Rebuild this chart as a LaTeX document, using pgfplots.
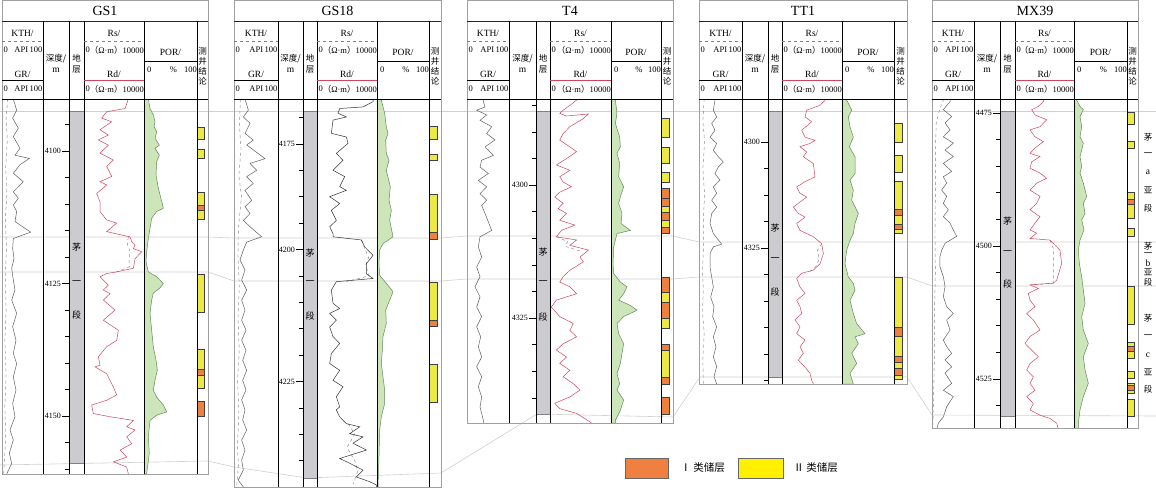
\documentclass[border=0pt]{standalone}
\usepackage{fontspec}
\setmainfont{Liberation Serif}
\newfontfamily\cjk{Noto Sans CJK SC}
\usepackage{pgfplots}
\pgfplotsset{compat=1.18}
\definecolor{grc}{RGB}{95,95,95}
\definecolor{kthc}{RGB}{135,135,135}
\definecolor{rdc}{RGB}{205,70,95}
\definecolor{rsc}{RGB}{130,130,130}
\definecolor{porf}{RGB}{204,230,186}
\definecolor{porl}{RGB}{100,135,95}
\definecolor{stg}{RGB}{204,204,208}
\definecolor{yel}{RGB}{236,232,70}
\definecolor{org}{RGB}{236,128,62}
\definecolor{lyel}{RGB}{255,240,0}
\definecolor{lorg}{RGB}{240,128,64}
\definecolor{frm}{RGB}{160,160,160}
\definecolor{cor}{RGB}{208,208,208}
\newcommand{\hA}{\fontsize{9.5}{9.5}\selectfont}
\newcommand{\hB}{\fontsize{8.5}{8.5}\selectfont}
\newcommand{\hC}{\cjk\fontsize{8.5}{8.5}\selectfont}
\newcommand{\hD}{\cjk\fontsize{9}{9}\selectfont}
\newcommand{\ttl}{\fontsize{14}{14}\selectfont}
\newcommand{\panel}[9]{%
  \draw[frm, line width=0.6pt] (#1,0) rectangle (#7,#8);
  \draw[black!85, line width=0.6pt] (#1,21) -- (#7,21);
  \draw[black, line width=0.7pt] (#1,99) -- (#7,99);
  \foreach \c in {#2,#3,#4,#5,#6} {\draw[black, line width=0.7pt] (\c,21) -- (\c,#8);}
  \draw[gray, dashed, line width=0.5pt] (#1,41) -- (#2,41);
  \draw[black, line width=0.6pt] (#1,80) -- (#2,80);
  \draw[gray, dashed, line width=0.5pt] (#4,41) -- (#5,41);
  \draw[rdc, line width=0.7pt] (#4,80) -- (#5,80);
  \draw[black, line width=0.6pt] (#5,61) -- (#6,61);
  \node[font=\ttl] at ({(#1+#7)/2},11) {#9};
  \node[font=\hA] at ({(#1+#2)/2},33) {KTH/};
  \node[font=\hB, anchor=west, inner sep=0] at (#1+1.5,50) {0};
  \node[font=\hB, anchor=east, inner sep=0] at (#2-0.5,50) {API\,100};
  \node[font=\hA] at ({(#1+#2)/2},74) {GR/};
  \node[font=\hB, anchor=west, inner sep=0] at (#1+1.5,89) {0};
  \node[font=\hB, anchor=east, inner sep=0] at (#2-0.5,89) {API\,100};
  \node[font=\hC] at ({(#2+#3)/2},59) {深度/};
  \node[font=\hA] at ({(#2+#3)/2},70) {m};
  \node[font=\hC] at ({(#3+#4)/2},58) {地};
  \node[font=\hC] at ({(#3+#4)/2},70) {层};
  \node[font=\hA] at ({(#4+#5)/2},33) {Rs/};
  \node[font=\hB, anchor=west, inner sep=0] at (#4+1.5,50) {0};
  \node[font=\hB, anchor=east, inner sep=0] at (#5,50) {{\cjk（}Ω·m{\cjk）}10000};
  \node[font=\hA] at ({(#4+#5)/2},74) {Rd/};
  \node[font=\hB, anchor=west, inner sep=0] at (#4+1.5,89) {0};
  \node[font=\hB, anchor=east, inner sep=0] at (#5,89) {{\cjk（}Ω·m{\cjk）}10000};
  \node[font=\hA] at ({(#5+#6)/2},52) {POR/};
  \node[font=\hB, anchor=west, inner sep=0] at (#5+3,70) {0};
  \node[font=\hB] at ({(#5+#6)/2+3},70) {\%};
  \node[font=\hB, anchor=east, inner sep=0] at (#6,70) {100};
  \node[font=\hC] at ({(#6+#7)/2},51) {测};
  \node[font=\hC] at ({(#6+#7)/2},61) {井};
  \node[font=\hC] at ({(#6+#7)/2},71) {结};
  \node[font=\hC] at ({(#6+#7)/2},81) {论};
}
\newcommand{\rb}[3]{\addplot[fill=#3, draw=black!75, line width=0.4pt] coordinates {(0,#1)(65,#1)(65,#2)(0,#2)} -- cycle;}
\pgfplotsset{
  trk/.style={scale only axis, anchor=north west, axis lines=none, y dir=reverse, xmin=0, xmax=100, clip=true},
  dep/.style={scale only axis, anchor=north west, y dir=reverse, xmin=0, xmax=100,
    axis x line=none, axis y line*=left, tick align=outside, major tick length=7pt, minor tick length=4pt,
    tick style={black, line width=0.6pt}, yticklabel style={font=\fontsize{8}{8}\selectfont, inner sep=1pt},
    y axis line style={draw=none}},
}
\begin{document}
\begin{tikzpicture}
\useasboundingbox (0,0) rectangle (1156pt,-489pt);
\begin{scope}[x=1pt,y=-1pt]
\draw[cor, line width=0.6pt] (0,111) -- (1156,111);
\draw[cor, line width=0.6pt] (0,237) -- (208,237) -- (234,238) -- (441,238) -- (467,236) -- (673,236) -- (699,242) -- (907,242) -- (932,242) -- (1156,242);
\draw[cor, line width=0.6pt] (0,272) -- (208,272) -- (234,281) -- (441,281) -- (467,279) -- (673,279) -- (699,277) -- (907,277) -- (932,286) -- (1156,286);
\draw[cor, line width=0.6pt] (0,465) -- (208,461) -- (234,467) -- (307,478) -- (441,473) -- (537,414) -- (673,417) -- (700,377) -- (907,377) -- (932,415) -- (1156,416);
\end{scope}

% ================= GS1 =================
\begin{axis}[trk, at={(2pt,-99pt)}, width=41pt, height=375pt, ymin=4090.2, ymax=4160.9]
\addplot[kthc, dashed, line width=0.45pt] coordinates {(14,4090.2)(10,4094)(13,4098)(9,4103)(12,4108)(8,4113)(11,4118)(8,4124)(10,4130)(7,4136)(10,4142)(7,4148)(9,4154)(4,4160.9)};
\addplot[grc, line width=0.5pt] coordinates {(27.6,4090.2)(35.8,4092.3)(26,4093.8)(39.8,4095.7)(27.6,4097.3)(43.9,4099.5)(31.7,4100.8)(66.7,4101.4)(43.9,4102.6)(27.6,4104.2)(52,4105.8)(27.6,4107.7)(39.8,4108.9)(27.6,4110.2)(35.8,4111.4)(31.7,4113.3)(69.9,4115.3)(27.6,4116.5)(26,4118.4)(29.3,4120.3)(23.6,4122.1)(27.6,4124.3)(31.7,4126.2)(23.6,4128.1)(35.8,4130.6)(26,4133.1)(34.1,4135.7)(27.6,4138.2)(35.8,4140.1)(27.6,4142.6)(34.1,4145.1)(26,4147.6)(31.7,4150.1)(19.5,4152.6)(27.6,4154.5)(17.9,4157)(23.6,4158.9)(11.4,4160.9)};
\end{axis}
\begin{axis}[dep, at={(69pt,-99pt)}, width=15pt, height=375pt, ymin=4090.2, ymax=4160.9,
  ytick={4100,4125,4150}, yticklabels={4100,4125,4150}, minor ytick={4095,4105,4110,4115,4120,4130,4135,4140,4145,4155,4160}]
\addplot[fill=stg, draw=gray, line width=0.4pt] coordinates {(0,4092.5)(100,4092.5)(100,4158.9)(0,4158.9)} -- cycle;
\end{axis}
\begin{axis}[trk, at={(84pt,-99pt)}, width=60pt, height=375pt, ymin=4090.2, ymax=4160.9, xmax=10000]
\addplot[rsc, dashed, line width=0.45pt] coordinates {(7395,4116.2)(7200,4117.5)(7700,4119)(7500,4120.5)(7600,4121.8)(5449,4122.8)};
\addplot[rdc, line width=0.5pt] coordinates {(7395,4090.2)(6839,4092.0)(3781,4092.6)(2947,4093.8)(4615,4094.5)(2669,4096.0)(4059,4097.0)(2391,4097.9)(4059,4098.9)(2669,4100.4)(4893,4101.7)(3781,4102.9)(4615,4104.8)(2669,4105.8)(3781,4106.4)(2113,4108.0)(2669,4109.6)(2669,4111.4)(3781,4113.0)(5449,4113.6)(3781,4115.2)(7673,4116.2)(7951,4117.1)(8507,4117.7)(8229,4118.4)(9619,4119.0)(8507,4120.3)(8229,4122.1)(5449,4122.8)(3781,4123.1)(2669,4123.7)(4059,4125.3)(3225,4126.2)(4337,4126.9)(3225,4128.1)(5171,4130.0)(3225,4131.9)(5727,4133.8)(5449,4135.7)(3781,4136.9)(2391,4138.8)(2669,4140.4)(1835,4140.7)(3781,4142.0)(4893,4144.5)(5449,4146.0)(3781,4147.0)(1279,4147.9)(1557,4149.5)(4337,4150.1)(8229,4150.8)(7117,4152.0)(8507,4152.6)(7117,4153.9)(7951,4155.2)(6005,4156.4)(7117,4157.7)(4893,4158.6)(7117,4159.6)(7395,4160.9)};
\end{axis}
\begin{axis}[trk, at={(144pt,-99pt)}, width=53pt, height=375pt, ymin=4090.2, ymax=4160.9]
\addplot[fill=porf, draw=porl, line width=0.5pt] coordinates {(0,4090.2)(8.2,4090.2)(11.3,4092.0)(17.6,4093.2)(20.8,4094.5)(18.9,4095.4)(23.9,4096.4)(20.8,4097.6)(28.9,4098.9)(20.8,4099.5)(28.9,4100.8)(23.9,4102.0)(22.6,4104.5)(27,4107.0)(35.2,4110.2)(36.5,4110.8)(23.9,4111.4)(14.5,4112.7)(11.3,4114.6)(8.2,4116.5)(5,4119.0)(3.8,4120.9)(8.2,4122.8)(23.9,4123.7)(36.5,4125.0)(30.2,4125.8)(17.6,4126.8)(14.5,4128.1)(11.3,4130.6)(14.5,4133.8)(17.6,4136.9)(22.6,4139.4)(25.2,4141.3)(20.8,4143.2)(17.6,4145.1)(23.9,4146.4)(36.5,4147.9)(42.8,4149.2)(23.9,4149.8)(11.3,4150.8)(8.2,4153.9)(10,4157.0)(5,4160.9)(0,4160.9)} -- cycle;
\end{axis}
\begin{axis}[trk, at={(197pt,-99pt)}, width=11pt, height=375pt, ymin=4090.2, ymax=4160.9]
\rb{4095.5}{4097.7}{yel}
\rb{4099.6}{4101.3}{yel}
\rb{4107.7}{4110.2}{yel}
\rb{4110.2}{4111.1}{org}
\rb{4111.1}{4112.8}{yel}
\rb{4123.2}{4130.4}{yel}
\rb{4137.4}{4141.1}{yel}
\rb{4141.1}{4142.3}{org}
\rb{4142.3}{4144.7}{yel}
\rb{4147.2}{4150.0}{org}
\end{axis}

% ================= GS18 =================
\begin{axis}[trk, at={(234pt,-99pt)}, width=44pt, height=388pt, ymin=4171.5, ymax=4245.0]
\addplot[kthc, dashed, line width=0.45pt] coordinates {(15,4171.5)(12,4176)(16,4181)(11,4186)(17,4190)(10,4196)(9,4201)(12,4207)(9,4213)(12,4219)(8,4225)(11,4231)(8,4237)(10,4241)(6,4245)};
\addplot[grc, line width=0.5pt] coordinates {(25,4171.5)(32.6,4173.6)(21.2,4174.9)(36.4,4176.1)(25,4178.0)(43.9,4179.3)(28.8,4180.2)(70.5,4182.8)(36.4,4183.7)(51.5,4185.0)(28.8,4186.2)(43.9,4187.5)(25,4188.8)(40.2,4190.7)(25,4191.9)(36.4,4193.2)(21.2,4194.5)(36.4,4195.7)(62.9,4197.6)(28.8,4198.6)(21.2,4200.1)(13.6,4202.0)(25,4203.9)(17.4,4205.8)(28.8,4207.7)(17.4,4209.6)(25,4211.5)(17.4,4213.4)(27.3,4215.3)(17.4,4217.2)(27.3,4219.1)(19.7,4221.0)(28.8,4222.9)(19.7,4224.8)(27.3,4226.6)(17.4,4228.5)(25,4230.4)(19.7,4232.3)(28.8,4234.2)(17.4,4236.1)(25,4238.0)(17.4,4239.9)(21.2,4241.8)(9.8,4243.7)(21.2,4245.0)};
\end{axis}
\begin{axis}[dep, at={(303pt,-99pt)}, width=14pt, height=388pt, ymin=4171.5, ymax=4245.0,
  ytick={4180,4200,4225}, yticklabels={4175,4200,4225}, minor ytick={4175,4185,4190,4195,4205,4210,4215,4220,4230,4235,4240}]
\addplot[fill=stg, draw=gray, line width=0.4pt] coordinates {(0,4173.8)(100,4173.8)(100,4243.3)(0,4243.3)} -- cycle;
\end{axis}
\begin{axis}[trk, at={(317pt,-99pt)}, width=60pt, height=388pt, ymin=4171.5, ymax=4245.0, xmax=10000]
\addplot[rsc, dashed, line width=0.45pt] coordinates {(7395,4198.2)(8000,4200)(8600,4201.5)(8100,4203)(8700,4205)(4893,4206.1)};
\addplot[rsc, dashed, line width=0.45pt] coordinates {(5200,4233)(6300,4235)(5000,4237.5)(6300,4240)(6800,4242)(6000,4244.5)};
\addplot[black!80, line width=0.5pt] coordinates {(9341,4171.5)(9341,4172.0)(7673,4173.0)(3781,4173.3)(3503,4174.2)(4893,4174.9)(2669,4175.5)(2391,4178.0)(4893,4178.7)(5171,4179.9)(3225,4181.8)(4337,4183.1)(2669,4185.0)(4615,4186.2)(3781,4188.1)(4893,4188.8)(2113,4190.0)(3781,4191.3)(2391,4192.6)(3225,4194.5)(2113,4195.7)(2669,4197.0)(2669,4197.6)(7395,4198.2)(7951,4199.5)(9341,4201.1)(8229,4202.7)(8229,4204.6)(9341,4205.5)(3225,4206.1)(2391,4207.7)(2669,4210.2)(3781,4211.2)(2113,4212.1)(3225,4213.4)(2113,4214.7)(2669,4216.5)(3781,4217.8)(2391,4219.7)(2113,4221.6)(3781,4222.9)(2669,4224.8)(4337,4226.0)(3225,4227.9)(3781,4229.8)(3225,4230.4)(3781,4231.7)(4893,4233.0)(7117,4233.6)(5449,4234.9)(7673,4235.5)(6005,4236.7)(8229,4238.0)(3781,4239.6)(5449,4240.5)(7673,4241.8)(6561,4243.1)(8785,4244.0)(9897,4244.6)(9897,4245.0)};
\end{axis}
\begin{axis}[trk, at={(377pt,-99pt)}, width=52pt, height=388pt, ymin=4171.5, ymax=4245.0]
\addplot[fill=porf, draw=porl, line width=0.5pt] coordinates {(0,4171.5)(8.3,4171.7)(14.7,4174.2)(17.9,4176.8)(21.2,4178.0)(16.7,4179.3)(17.9,4181.8)(23.1,4183.1)(17.9,4185.0)(25.6,4188.1)(23.1,4190.7)(27.6,4192.6)(24.4,4194.5)(30.8,4197.6)(11.5,4198.9)(5.1,4200.1)(3.8,4202.7)(5.1,4204.9)(17.9,4206.4)(30.8,4208.0)(24.4,4209.6)(16.7,4211.5)(17.9,4214.0)(11.5,4216.5)(10.3,4219.1)(8.3,4221.6)(11.5,4224.1)(14.7,4226.6)(14.7,4229.2)(8.3,4231.7)(5.1,4234.2)(3.8,4239.3)(1.9,4245.0)(0,4245.0)} -- cycle;
\end{axis}
\begin{axis}[trk, at={(429pt,-99pt)}, width=12pt, height=388pt, ymin=4171.5, ymax=4245.0]
\rb{4176.6}{4179.2}{yel}
\rb{4182.0}{4183.1}{yel}
\rb{4189.6}{4196.8}{yel}
\rb{4196.8}{4198.0}{org}
\rb{4206.25}{4213.4}{yel}
\rb{4213.4}{4214.6}{org}
\rb{4221.8}{4229.0}{yel}
\end{axis}

% ================= T4 =================
\begin{axis}[trk, at={(467pt,-99pt)}, width=42pt, height=324pt, ymin=4283.8, ymax=4344.7]
\addplot[grc, line width=0.5pt] coordinates {(38.9,4283.8)(38.9,4284.3)(42.9,4285.3)(23,4285.9)(46.8,4286.8)(31,4287.8)(58.7,4289.0)(46.8,4290.3)(66.7,4291.5)(42.9,4292.8)(62.7,4294.4)(34.9,4295.3)(31,4296.6)(50.8,4297.8)(27,4299.1)(46.8,4300.3)(31,4301.6)(46.8,4302.8)(34.9,4303.8)(42.9,4305.3)(58.7,4308.5)(31,4309.7)(27,4311.6)(34.9,4313.5)(23,4315.4)(31,4317.2)(19,4319.1)(31,4321.0)(23,4322.9)(34.9,4324.7)(23,4326.6)(32.5,4328.5)(27,4330.4)(34.9,4332.3)(23,4334.1)(34.9,4336.0)(27,4337.9)(34.9,4339.8)(31,4341.7)(38.9,4344.2)(38.9,4344.7)};
\end{axis}
\begin{axis}[dep, at={(536pt,-99pt)}, width=14pt, height=324pt, ymin=4283.8, ymax=4344.7,
  ytick={4300,4325}, yticklabels={4300,4325}, minor ytick={4285,4290,4295,4305,4310,4315,4320,4330,4335,4340}]
\addplot[fill=stg, draw=gray, line width=0.4pt] coordinates {(0,4286.1)(100,4286.1)(100,4343.0)(0,4343.0)} -- cycle;
\end{axis}
\begin{axis}[trk, at={(550pt,-99pt)}, width=61pt, height=324pt, ymin=4283.8, ymax=4344.7, xmax=10000]
\addplot[rsc, dashed, line width=0.45pt] coordinates {(1049,4309.7)(2900,4310.6)(2500,4311.5)(5000,4312.4)};
\addplot[rdc, line width=0.5pt] coordinates {(4361,4283.8)(4361,4284.0)(3257,4285.0)(2153,4285.9)(1601,4286.5)(2705,4287.0)(6293,4286.6)(5465,4287.5)(3257,4289.0)(2153,4290.3)(1601,4291.5)(3257,4292.8)(4361,4293.7)(2705,4295.0)(1049,4296.2)(3257,4297.2)(1601,4298.4)(2153,4299.4)(3533,4300.3)(1601,4301.3)(773,4302.2)(2153,4303.4)(1325,4304.4)(2705,4305.3)(1601,4306.6)(4085,4307.5)(1877,4308.5)(1049,4309.7)(4361,4310.3)(3257,4311.3)(6293,4312.2)(4913,4313.5)(5465,4314.4)(3257,4316.0)(2153,4317.2)(1601,4318.2)(3257,4319.1)(4361,4320.4)(1049,4321.6)(221,4322.9)(1601,4324.7)(3809,4326.0)(3257,4327.3)(4361,4328.5)(2153,4329.8)(1049,4331.0)(2705,4332.3)(1601,4333.5)(3257,4334.8)(2153,4336.0)(3809,4337.3)(4913,4338.5)(3257,4339.8)(773,4341.0)(1601,4342.0)(4361,4342.9)(6569,4344.5)(6800,4344.7)};
\end{axis}
\begin{axis}[trk, at={(611pt,-99pt)}, width=50pt, height=324pt, ymin=4283.8, ymax=4344.7]
\addplot[fill=porf, draw=porl, line width=0.5pt] coordinates {(0,4283.8)(8.7,4284.0)(12,4286.5)(8.7,4288.4)(17.3,4290.9)(18.7,4292.8)(12,4294.0)(17.3,4295.9)(15.3,4298.4)(25.3,4300.3)(18.7,4302.2)(15.3,4303.4)(22,4305.3)(20,4307.2)(38.7,4308.5)(12,4309.1)(5.3,4311.6)(4,4314.7)(5.3,4316.6)(18.7,4318.2)(32,4319.1)(25.3,4320.4)(15.3,4321.6)(38.7,4322.6)(52,4323.5)(25.3,4324.7)(12,4326.0)(15.3,4327.9)(25.3,4329.8)(22,4331.6)(18.7,4333.5)(12,4335.4)(17.3,4337.3)(12,4338.5)(25.3,4340.4)(18.7,4342.3)(8.7,4344.2)(8.7,4344.7)(0,4344.7)} -- cycle;
\end{axis}
\begin{axis}[trk, at={(661pt,-99pt)}, width=12pt, height=324pt, ymin=4283.8, ymax=4344.7]
\rb{4287.46}{4291.03}{yel}
\rb{4292.80}{4295.92}{yel}
\rb{4297.50}{4299.38}{yel}
\rb{4300.51}{4302.4}{org}
\rb{4302.4}{4303.89}{org}
\rb{4303.89}{4305.08}{yel}
\rb{4305.08}{4306.58}{org}
\rb{4306.58}{4307.84}{yel}
\rb{4307.84}{4309.08}{org}
\rb{4317.35}{4320.17}{org}
\rb{4320.17}{4322.05}{yel}
\rb{4322.05}{4324.94}{org}
\rb{4324.94}{4326.94}{yel}
\rb{4329.83}{4331.02}{org}
\rb{4331.02}{4336.15}{yel}
\rb{4336.15}{4337.46}{org}
\rb{4339.91}{4343.05}{org}
\end{axis}

% ================= TT1 =================
\begin{axis}[trk, at={(699pt,-99pt)}, width=43pt, height=285pt, ymin=4291.9, ymax=4345.7]
\addplot[kthc, dashed, line width=0.45pt] coordinates {(12,4291.9)(9,4296)(13,4300)(9,4305)(13,4310)(10,4315)(11,4319)(8,4324)(10,4328)(8,4332)(12,4336)(9,4341)(10,4345.7)};
\addplot[grc, line width=0.5pt] coordinates {(37.2,4291.9)(37.2,4292.1)(33.3,4294.0)(41.1,4295.3)(29.5,4296.5)(37.2,4297.8)(25.6,4299.1)(41.1,4300.3)(33.3,4301.6)(45,4302.8)(56.6,4303.8)(45,4304.7)(37.2,4306.0)(48.8,4307.2)(33.3,4308.5)(41.1,4309.7)(29.5,4311.0)(41.1,4312.3)(29.5,4313.5)(25.6,4315.4)(33.3,4317.3)(52.7,4319.3)(33.3,4319.8)(25.6,4321.1)(25.6,4323.6)(29.5,4325.5)(33.3,4327.4)(27.1,4329.3)(34.9,4331.1)(31.8,4333.0)(41.1,4334.9)(33.3,4336.8)(39.5,4338.7)(33.3,4340.6)(41.1,4342.4)(34.9,4344.3)(41.1,4345.7)};
\end{axis}
\begin{axis}[dep, at={(768pt,-99pt)}, width=14pt, height=285pt, ymin=4291.9, ymax=4345.7,
  ytick={4300,4320}, yticklabels={4300,4325}, minor ytick={4305,4310,4315,4325,4330,4335,4340,4345}]
\addplot[fill=stg, draw=gray, line width=0.4pt] coordinates {(0,4294.2)(100,4294.2)(100,4344.4)(0,4344.4)} -- cycle;
\end{axis}
\begin{axis}[trk, at={(782pt,-99pt)}, width=60pt, height=285pt, ymin=4291.9, ymax=4345.7, xmax=10000]
\addplot[rsc, dashed, line width=0.45pt] coordinates {(6616,4319.2)(5900,4320.5)(6200,4322)(5700,4323.5)(4600,4324.5)};
\addplot[rdc, line width=0.5pt] coordinates {(7172,4291.9)(7172,4292.1)(6338,4293.1)(4114,4294.0)(3836,4295.3)(4948,4296.2)(3280,4297.8)(3836,4299.1)(5504,4299.7)(4670,4300.3)(3002,4300.9)(4114,4301.9)(3558,4302.8)(5226,4304.1)(5504,4306.6)(3836,4307.5)(2446,4308.5)(3002,4309.7)(4114,4310.4)(1890,4312.3)(2724,4313.5)(3836,4314.2)(2446,4315.4)(3002,4316.7)(5226,4317.9)(6616,4319.2)(6894,4321.1)(6338,4323.0)(5226,4324.2)(3280,4324.8)(2446,4325.8)(3002,4327.4)(3836,4328.6)(2446,4329.9)(3002,4331.1)(3280,4332.4)(2168,4333.6)(3002,4334.9)(2446,4336.2)(3836,4337.4)(3002,4338.7)(3558,4339.9)(2724,4341.2)(3836,4342.5)(4670,4343.7)(4948,4345.0)(5226,4345.7)};
\end{axis}
\begin{axis}[trk, at={(842pt,-99pt)}, width=52pt, height=285pt, ymin=4291.9, ymax=4345.7]
\addplot[fill=porf, draw=porl, line width=0.5pt] coordinates {(0,4291.9)(9,4292.1)(18.6,4294.0)(12.2,4295.3)(15.4,4297.2)(21.8,4299.1)(14.1,4300.9)(25,4302.8)(25,4306.0)(15.4,4307.2)(21.8,4309.1)(18.6,4311.0)(31.4,4313.5)(25,4315.4)(21.8,4317.3)(15.4,4318.6)(9,4320.4)(5.8,4323.0)(12.2,4325.5)(21.8,4326.7)(25,4328.0)(15.4,4329.9)(21.8,4332.4)(28.2,4334.3)(44.2,4336.2)(25,4336.8)(31.4,4338.1)(18.6,4339.9)(28.2,4341.8)(15.4,4343.7)(21.8,4345.7)(0,4345.7)} -- cycle;
\end{axis}
\begin{axis}[trk, at={(894pt,-99pt)}, width=13pt, height=285pt, ymin=4291.9, ymax=4345.7]
\rb{4296.53}{4300.11}{yel}
\rb{4302.57}{4305.72}{yel}
\rb{4307.42}{4312.75}{yel}
\rb{4312.75}{4313.77}{org}
\rb{4313.77}{4315.58}{yel}
\rb{4315.58}{4316.42}{org}
\rb{4316.42}{4317.17}{yel}
\rb{4325.58}{4335.02}{yel}
\rb{4335.02}{4336.66}{org}
\rb{4336.66}{4340.43}{yel}
\rb{4340.43}{4341.51}{org}
\rb{4341.51}{4342.70}{yel}
\rb{4342.70}{4344.02}{org}
\rb{4344.02}{4344.72}{yel}
\end{axis}

% ================= MX39 =================
\begin{axis}[trk, at={(932pt,-99pt)}, width=42pt, height=329pt, ymin=4472.4, ymax=4534.2]
\addplot[kthc, dashed, line width=0.45pt] coordinates {(28,4472.4)(18,4474.4)(10,4477)(8,4482)(8,4490)(7,4498)(8,4505)(6,4512)(6,4520)(4,4527)(2,4534.2)};
\addplot[grc, line width=0.5pt] coordinates {(42.9,4472.4)(42.9,4472.9)(27,4474.4)(46.8,4475.7)(31,4476.9)(42.9,4478.2)(27,4479.5)(50.8,4480.7)(31,4482.0)(50.8,4483.2)(27,4484.5)(46.8,4486.0)(27,4487.0)(34.9,4488.2)(23,4489.5)(34.9,4490.7)(27,4492.0)(38.9,4493.2)(27,4494.5)(42.9,4495.7)(50.8,4497.0)(58.7,4498.2)(31,4499.5)(23,4500.8)(19,4502.0)(19,4503.9)(27,4505.8)(31,4507.6)(27,4509.5)(34.9,4511.4)(50.8,4512.7)(34.9,4513.9)(42.9,4515.8)(27,4517.7)(34.9,4518.9)(46.8,4520.2)(31,4521.4)(46.8,4522.7)(31,4523.9)(46.8,4525.8)(27,4527.1)(50.8,4528.3)(34.9,4530.2)(27,4532.1)(15.1,4533.3)(12,4534.2)};
\end{axis}
\begin{axis}[dep, at={(1000pt,-99pt)}, width=15pt, height=329pt, ymin=4472.4, ymax=4534.2,
  ytick={4475,4500,4525}, yticklabels={4475,4500,4525}, minor ytick={4480,4485,4490,4495,4505,4510,4515,4520,4530}]
\addplot[fill=stg, draw=gray, line width=0.4pt] coordinates {(0,4474.6)(100,4474.6)(100,4532.0)(0,4532.0)} -- cycle;
\end{axis}
\begin{axis}[trk, at={(1015pt,-99pt)}, width=59pt, height=329pt, ymin=4472.4, ymax=4534.2, xmax=10000]
\addplot[rsc, dashed, line width=0.45pt] coordinates {(5933,4498.9)(6498,4500.5)(6498,4507.0)(3000,4507.3)};
\addplot[rdc, line width=0.5pt] coordinates {(4803,4472.4)(4803,4472.9)(3955,4473.8)(2825,4474.4)(3390,4475.4)(5368,4476.3)(4238,4477.6)(2543,4478.2)(3390,4479.5)(4803,4480.4)(3390,4481.6)(2543,4482.6)(4238,4483.2)(2825,4484.2)(2543,4485.4)(4238,4486.3)(5368,4487.3)(3673,4488.2)(2543,4489.5)(4238,4490.7)(3673,4492.0)(2543,4493.2)(4238,4494.5)(3390,4495.7)(2543,4497.0)(3673,4497.6)(2543,4498.6)(5933,4498.9)(7628,4500.8)(7910,4503.3)(7063,4506.4)(6498,4507.0)(2543,4507.3)(3955,4508.0)(2260,4508.9)(2543,4510.2)(3390,4511.4)(1978,4512.7)(3108,4513.9)(4238,4515.8)(2543,4517.0)(1695,4518.3)(2825,4519.6)(3955,4520.8)(2543,4522.1)(1978,4523.3)(3108,4524.6)(2543,4525.8)(3390,4527.1)(1978,4528.3)(3108,4529.6)(2543,4530.8)(4238,4531.8)(5933,4532.4)(7063,4533.3)(7300,4534.2)};
\end{axis}
\begin{axis}[trk, at={(1074pt,-99pt)}, width=53pt, height=329pt, ymin=4472.4, ymax=4534.2]
\addplot[fill=porf, draw=porl, line width=0.5pt] coordinates {(0,4472.4)(5,4472.6)(11.3,4473.8)(17.6,4474.4)(11.3,4475.7)(14.5,4477.6)(11.3,4479.5)(17.6,4480.7)(14.5,4482.0)(11.3,4483.2)(14.5,4485.1)(11.3,4486.3)(17.6,4488.2)(23.9,4490.7)(17.6,4492.0)(20.8,4493.9)(14.5,4495.1)(18.9,4497.0)(11.3,4498.9)(8.2,4500.8)(10.1,4503.3)(14.5,4505.8)(17.6,4508.3)(20.8,4510.8)(14.5,4513.3)(17.6,4515.8)(27,4518.3)(17.6,4520.8)(20.8,4523.3)(27,4525.8)(17.6,4528.3)(11.3,4530.8)(8.2,4533.3)(8.2,4534.2)(0,4534.2)} -- cycle;
\end{axis}
\begin{axis}[trk, at={(1127pt,-99pt)}, width=11pt, height=329pt, ymin=4472.4, ymax=4534.2]
\rb{4474.94}{4477.20}{yel}
\rb{4480.26}{4481.64}{yel}
\rb{4489.98}{4491.22}{yel}
\rb{4491.22}{4492.11}{org}
\rb{4492.11}{4494.79}{yel}
\rb{4496.67}{4498.12}{yel}
\rb{4507.52}{4514.72}{yel}
\rb{4517.99}{4518.80}{yel}
\rb{4518.80}{4519.68}{org}
\rb{4519.68}{4521.11}{yel}
\rb{4523.44}{4524.87}{yel}
\rb{4525.70}{4526.13}{yel}
\rb{4526.13}{4527.01}{org}
\rb{4527.01}{4527.69}{yel}
\rb{4528.82}{4531.95}{yel}
\end{axis}

\begin{scope}[x=1pt,y=-1pt]
\panel{2}{43}{69}{84}{144}{197}{208}{474}{GS1}
\panel{234}{278}{303}{317}{377}{429}{441}{487}{GS18}
\panel{467}{509}{536}{550}{611}{661}{673}{423}{T4}
\panel{699}{742}{768}{782}{842}{894}{907}{384}{TT1}
\panel{932}{974}{1000}{1015}{1074}{1127}{1138}{428}{MX39}
% strat labels
\foreach \xx/\ya/\yb/\yc in {76.5/247/283/315, 310/253/283/316, 543/252/283/317, 775/228/260/292, 1007.5/221/253/284} {
  \node[font=\hD] at (\xx,\ya) {茅};
  \node[font=\hD] at (\xx,\yb) {一};
  \node[font=\hD] at (\xx,\yc) {段};
}
% MX39 sub-member labels
\node[font=\hC] at (1148,137) {茅};
\node[font=\hC] at (1148,155) {一};
\node[font=\hA] at (1148,172) {a};
\node[font=\hC] at (1148,190) {亚};
\node[font=\hC] at (1148,208) {段};
\node[font=\hC] at (1148,246) {茅};
\node[font=\hC] at (1148,255) {一};
\node[font=\hA] at (1148,263) {b};
\node[font=\hC] at (1148,272) {亚};
\node[font=\hC] at (1148,282) {段};
\node[font=\hC] at (1148,318) {茅};
\node[font=\hC] at (1148,337) {一};
\node[font=\hA] at (1148,355) {c};
\node[font=\hC] at (1148,372) {亚};
\node[font=\hC] at (1148,389) {段};
% legend
\filldraw[fill=lorg, draw=black!60, line width=0.5pt] (625,458) rectangle (668,478);
\node[anchor=west, font=\cjk\fontsize{10.5}{10.5}\selectfont] at (677,468) {Ⅰ\ 类储层};
\filldraw[fill=lyel, draw=black!60, line width=0.5pt] (738,458) rectangle (783,478);
\node[anchor=west, font=\cjk\fontsize{10.5}{10.5}\selectfont] at (790,468) {Ⅱ\ 类储层};
\end{scope}
\end{tikzpicture}
\end{document}
